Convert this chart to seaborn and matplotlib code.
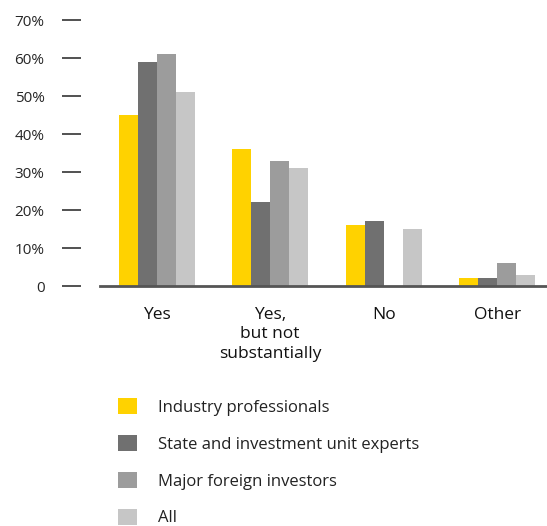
import matplotlib
matplotlib.use("Agg")
import matplotlib.pyplot as plt
import seaborn as sns
import pandas as pd

categories = ["Yes", "Yes,\nbut not\nsubstantially", "No", "Other"]
groups = ["Industry professionals", "State and investment unit experts",
          "Major foreign investors", "All"]
industry = [45, 36, 16, 2]
state = [59, 22, 17, 2]
foreign = [61, 33, 0, 6]
all_resp = [51, 31, 15, 3]
y_ticks = [0, 10, 20, 30, 40, 50, 60, 70]
y_tick_labels = ["0", "10%", "20%", "30%", "40%", "50%", "60%", "70%"]

colors = ["#FFD200", "#707070", "#9C9C9C", "#C6C6C6"]

rows = []
for g, vals in zip(groups, [industry, state, foreign, all_resp]):
    for c, v in zip(categories, vals):
        rows.append({"category": c, "group": g, "value": v})
df = pd.DataFrame(rows)

sns.set_theme(style="white")
plt.rcParams["font.family"] = ["Open Sans", "DejaVu Sans"]

W, H = 547, 526
fig = plt.figure(figsize=(W / 100, H / 100), dpi=100)
ax = fig.add_axes([100 / W, (H - 286) / H, (W - 100) / W, 266 / H])

sns.barplot(data=df, x="category", y="value", hue="group", order=categories,
            hue_order=groups, palette=colors, saturation=1, width=0.67,
            linewidth=0, ax=ax, legend=True)

ax.set_ylim(0, 70)
ax.set_xlim(-0.5, 3.44)
ax.set_xlabel("")
ax.set_ylabel("")
ax.set_yticks(y_ticks)
ax.set_yticklabels(y_tick_labels, fontsize=12.5, color="#222222")

for s in ["top", "right", "left"]:
    ax.spines[s].set_visible(False)
ax.spines["left"].set_position(("outward", 14))
ax.spines["bottom"].set_color("#555555")
ax.spines["bottom"].set_linewidth(2)
ax.spines["bottom"].set_zorder(5)

ax.tick_params(axis="y", length=14, width=1.2, color="#333333", pad=12, left=True)
ax.tick_params(axis="x", length=0, pad=15, labelsize=12.5, labelcolor="#111111")
for lbl in ax.get_xticklabels():
    lbl.set_linespacing(1.3)
    lbl.set_va("top")

handles, labels = ax.get_legend_handles_labels()
ax.get_legend().remove()
fig.legend(handles, labels, loc="upper left",
           bbox_to_anchor=(110 / W, 1 - 390 / H), frameon=False,
           fontsize=12, handlelength=1.1, handleheight=1.1,
           handletextpad=1.25, labelspacing=1.15, borderpad=0,
           labelcolor="#222222")

fig.savefig("out.png", dpi=100)
